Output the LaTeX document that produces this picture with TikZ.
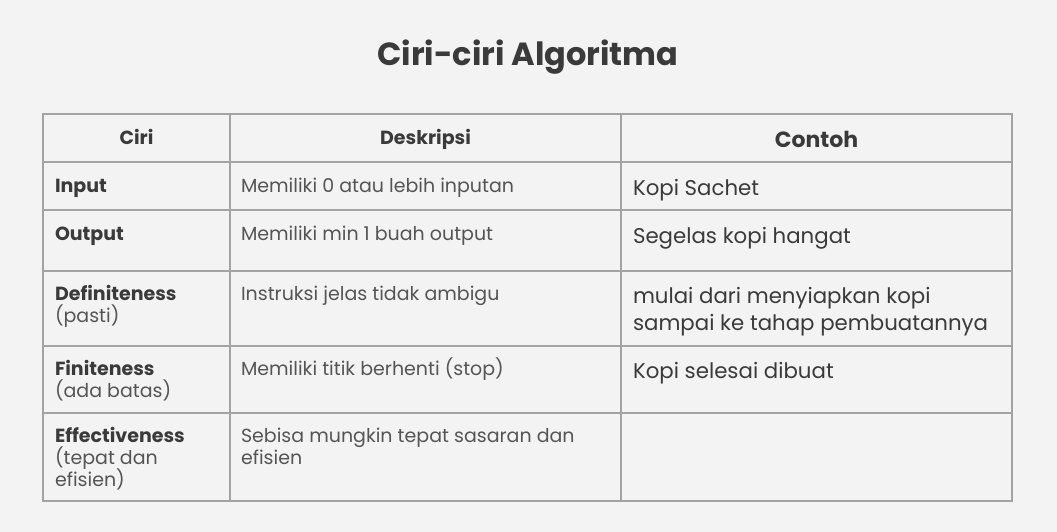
\documentclass[tikz,border=0pt]{standalone}
\usepackage{fontspec}
\setmainfont{Poppins}
\definecolor{bgc}{HTML}{F3F3F3}
\definecolor{gridc}{HTML}{A3A3A3}
\definecolor{darkt}{HTML}{3A3A3A}
\definecolor{bodyt}{HTML}{555555}
\tikzset{
  gridline/.style={draw=gridc, line width=1.2pt},
  txt/.style={anchor=base west, inner sep=0pt, outer sep=0pt},
  hd/.style={anchor=base, inner sep=0pt, font=\fontsize{19}{22}\selectfont\bfseries, text=darkt},
  small/.style={txt, font=\fontsize{19}{22}\selectfont, text=bodyt},
  smallb/.style={txt, font=\fontsize{19}{22}\selectfont\bfseries, text=darkt},
  large/.style={txt, font=\fontsize{21.3}{27}\selectfont, text=darkt},
}
\begin{document}
\begin{tikzpicture}[x=1pt,y=-1pt]
\fill[bgc] (0,0) rectangle (1057,532);
\useasboundingbox (0,0) rectangle (1057,532);
\node[anchor=base, inner sep=0pt, font=\fontsize{32}{40}\selectfont\bfseries, text=darkt] (title) at (528,66) {Ciri-ciri Algoritma};
% grid
\draw[gridline] (43,114) rectangle (1012,501);
\foreach \x in {230,621} \draw[gridline] (\x,114) -- (\x,501);
\foreach \y in {162,210,271,346,413} \draw[gridline] (43,\y) -- (1012,\y);
% header
\node[hd] (h1) at (136.5,145) {Ciri};
\node[hd] (h2) at (425.5,145) {Deskripsi};
\node[hd, font=\fontsize{22}{27}\selectfont\bfseries] (h3) at (816.5,147) {Contoh};
% Input
\node[smallb] (c1a) at (55,192) {Input};
\node[small] (d1) at (241,192) {Memiliki 0 atau lebih inputan};
\node[large] (e1) at (633,195) {Kopi Sachet};
% Output
\node[smallb] (c2a) at (55,240) {Output};
\node[small] (d2) at (241,240) {Memiliki min 1 buah output};
\node[large] (e2) at (633,243) {Segelas kopi hangat};
% Definiteness
\node[smallb] (c3a) at (55,300) {Definiteness};
\node[small] (c3b) at (55,322) {(pasti)};
\node[small] (d3) at (241,300) {Instruksi jelas tidak ambigu};
\node[large] (e3a) at (633,303) {mulai dari menyiapkan kopi};
\node[large] (e3b) at (633,330) {sampai ke tahap pembuatannya};
% Finiteness
\node[smallb] (c4a) at (55,375) {Finiteness};
\node[small] (c4b) at (55,397) {(ada batas)};
\node[small] (d4) at (241,375) {Memiliki titik berhenti (stop)};
\node[large] (e4) at (633,378) {Kopi selesai dibuat};
% Effectiveness
\node[smallb] (c5a) at (55,442) {Effectiveness};
\node[small] (c5b) at (55,464) {(tepat dan};
\node[small] (c5c) at (55,486) {efisien)};
\node[small] (d5a) at (241,442) {Sebisa mungkin tepat sasaran dan};
\node[small] (d5b) at (241,464) {efisien};
\end{tikzpicture}
\end{document}
